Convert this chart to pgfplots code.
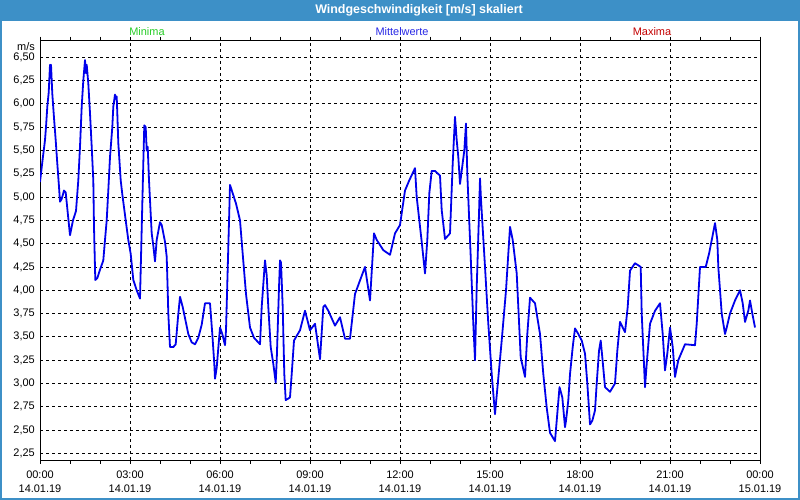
\documentclass[border=0pt]{standalone}
\usepackage{pgfplots}
\pgfplotsset{compat=1.18}
\usepackage{fontspec}
\setmainfont{Liberation Sans}

\definecolor{winblue}{RGB}{61,144,199}
\definecolor{lineblue}{RGB}{0,0,235}
\definecolor{mingreen}{RGB}{40,205,40}
\definecolor{midblue}{RGB}{40,40,230}
\definecolor{maxred}{RGB}{195,0,0}

% Mittelwerte, x in Minuten ab 14.01.19 00:00
\pgfplotstableread{
t v
0 5.16
5.4 5.41
10 5.61
12 5.75
14.6 5.97
17.4 6.12
20 6.42
21.4 6.35
22 6.42
24.6 6.11
28 5.85
31.4 5.61
34.6 5.36
38 5.11
40 4.95
43.4 4.98
48 5.07
51.4 5.05
60 4.59
66 4.75
72 4.85
76.6 5.18
80 5.54
83.4 5.97
86.6 6.25
90 6.47
92 6.33
93.4 6.42
96.6 6.22
100 5.90
103.4 5.54
106.6 5.18
108 4.68
110.6 4.11
114.6 4.13
120 4.22
126.6 4.32
130 4.54
133.4 4.75
136.6 5.07
140 5.43
144.6 5.75
146.6 5.97
150 6.10
152 6.05
153.4 6.08
154.6 5.90
156.6 5.58
161.4 5.18
164.6 5.03
171.4 4.75
176.6 4.54
181.4 4.39
186.6 4.11
193.4 4.00
200 3.91
206.6 5.36
208.6 5.77
211.4 5.75
213.4 5.50
215.4 5.54
218 5.18
221.4 4.82
223.4 4.61
226.6 4.48
230 4.31
233.4 4.54
240 4.73
243.4 4.70
250 4.52
253.4 4.36
255.4 4.00
256.6 3.75
260 3.39
266.6 3.39
271.4 3.42
276 3.71
280 3.93
285.4 3.82
292 3.65
296.6 3.53
303.4 3.44
310 3.42
316.6 3.49
323.4 3.63
330 3.86
340 3.86
344.6 3.53
348.6 3.21
350 3.05
353.4 3.17
360 3.60
364.6 3.53
370 3.41
372 3.57
376.6 4.46
380 5.13
385.4 5.04
392 4.93
400 4.75
405.4 4.39
412 3.96
420 3.60
428 3.49
440 3.42
443.4 3.82
450 4.32
453.4 4.16
456.6 3.82
461.4 3.39
466.6 3.21
471.4 3.01
473.4 3.24
478 4.03
480 4.32
482 4.30
485.4 3.82
488.6 3.10
491.4 2.82
500 2.85
503.4 3.10
508 3.46
513.4 3.51
520 3.57
530 3.78
540 3.57
550 3.64
556.6 3.39
560 3.26
566.6 3.82
570 3.84
576.6 3.78
590 3.62
600 3.71
610 3.48
620 3.48
630 3.96
650 4.25
660 3.89
668 4.61
673.4 4.54
686.6 4.43
700 4.38
710 4.61
720 4.70
730 5.07
738.6 5.18
750 5.31
753.4 5.00
763.4 4.52
770 4.18
774.6 4.54
778.6 5.04
783.4 5.28
790 5.28
800 5.23
803.4 4.86
810 4.55
820 4.61
825.4 5.36
830 5.86
833.4 5.61
836.6 5.43
840 5.14
848.6 5.50
852 5.79
854.6 5.25
861.4 4.36
866.6 3.64
870 3.25
873.4 4.03
878 4.82
880 5.20
882 4.97
890 4.25
896.6 3.64
903.4 3.10
910 2.67
916.6 3.06
923.4 3.46
932 4.00
940 4.68
945.4 4.54
953.4 4.18
961.4 3.28
970 3.07
974.6 3.53
980 3.92
990 3.86
1000 3.53
1006.6 3.10
1013.4 2.74
1020 2.47
1030 2.38
1039 2.96
1044.6 2.85
1050 2.53
1052 2.60
1056.6 2.82
1060 3.10
1065.4 3.39
1070 3.59
1076.6 3.53
1083.4 3.46
1090 3.32
1094.6 3.00
1100 2.56
1104.6 2.60
1110 2.71
1113.4 3.00
1118 3.35
1121.4 3.46
1124.6 3.28
1130 2.96
1140 2.91
1150 3.00
1154.6 3.35
1160 3.66
1170 3.55
1175.4 3.82
1180 4.21
1190 4.29
1201.4 4.25
1203.4 3.75
1210 2.96
1213.4 3.21
1220 3.64
1230 3.78
1240 3.86
1245.4 3.53
1250 3.14
1254.6 3.32
1260 3.60
1265.4 3.39
1270 3.07
1276.6 3.25
1290 3.42
1310 3.41
1313.4 3.64
1320 4.25
1331.4 4.25
1338 4.39
1344.6 4.57
1350 4.72
1354.6 4.54
1356.6 4.25
1363.4 3.75
1370 3.53
1373.4 3.60
1380 3.75
1390 3.89
1400 4.00
1405.4 3.86
1410 3.66
1416.6 3.78
1420 3.89
1424.6 3.75
1430 3.60
}\mittel

\begin{document}
\fontsize{11}{14}\selectfont
\begin{tikzpicture}[x=1bp,y=1bp]
% Fenster: 800 x 500 px, Achsenursprung bei Pixel (40,460)
\fill[winblue] (-40,460) rectangle (760,-40);
\fill[white] (-38,439) rectangle (758,-38);
\node[white,font=\bfseries\fontsize{12.5}{14}\selectfont] at (379,450) {Windgeschwindigkeit [m/s] skaliert};
\node[mingreen,inner sep=0pt] at (107,428) {Minima};
\node[midblue,inner sep=0pt] at (362,428) {Mittelwerte};
\node[maxred,inner sep=0pt] at (612,428) {Maxima};
\node[anchor=east,inner sep=0pt] at (-5,413.5) {m/s};

\begin{axis}[
    at={(0,0)}, anchor=south west,
    scale only axis,
    width=720bp, height=419.3bp,
    xmin=0, xmax=1440,
    ymin=2.178, ymax=6.678,
    xtick={0,180,360,540,720,900,1080,1260,1440},
    xticklabels={00:00\\14.01.19,03:00\\14.01.19,06:00\\14.01.19,09:00\\14.01.19,
                 12:00\\14.01.19,15:00\\14.01.19,18:00\\14.01.19,21:00\\14.01.19,
                 00:00\\15.01.19},
    minor xtick={60,120,240,300,420,480,600,660,780,840,960,1020,1140,1200,1320,1380},
    ytick={2.25,2.5,2.75,3,3.25,3.5,3.75,4,4.25,4.5,4.75,5,5.25,5.5,5.75,6,6.25,6.5},
    yticklabel style={/pgf/number format/fixed,/pgf/number format/fixed zerofill,
                      /pgf/number format/precision=2,/pgf/number format/use comma,
                      inner sep=1bp},
    /pgf/number format/assume math mode=true,
    tick align=outside,
    major tick length=4bp, minor tick length=4bp,
    ytick style={draw=none},
    xtick style={black, line width=0.8bp},
    xticklabel style={align=center, inner sep=0pt, yshift=-7bp},
    grid=major,
    major grid style={black, line width=0.8bp, dash pattern=on 3bp off 3bp},
    axis line style={black, line width=0.9bp},
    clip=true,
]
\addplot[lineblue, line width=1.8bp, line join=round] table[x=t,y=v] {\mittel};
\end{axis}
\end{tikzpicture}
\end{document}
